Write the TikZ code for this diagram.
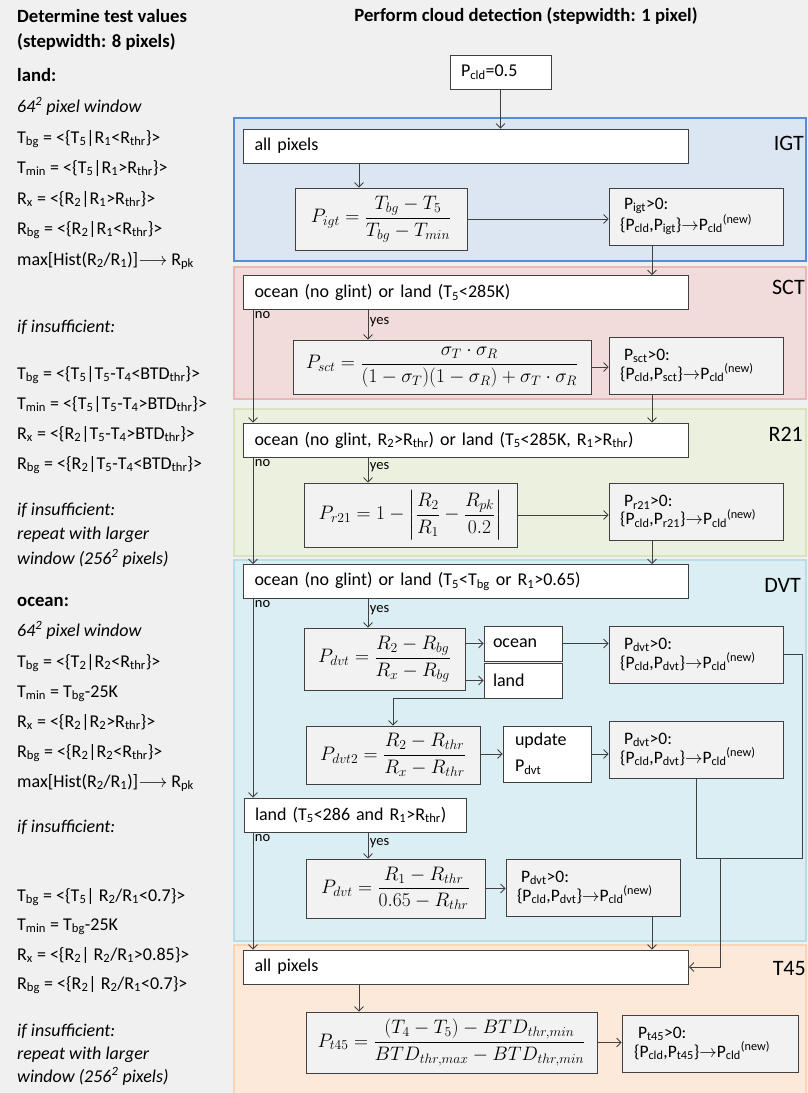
\RequirePackage{fix-cm}
\documentclass[tikz,border=0pt]{standalone}
\usepackage{amsmath}
\usepackage{fontspec}
\setmainfont{Carlito}
\usetikzlibrary{positioning, arrows.meta}
\definecolor{fondo}{HTML}{F0F0F0}
\definecolor{trazo}{HTML}{404040}
\definecolor{cajagris}{HTML}{F2F2F2}
\definecolor{igtborde}{HTML}{558ED5}
\definecolor{igtfondo}{HTML}{DCE6F2}
\definecolor{sctborde}{HTML}{E6B9B8}
\definecolor{sctfondo}{HTML}{F2DCDB}
\definecolor{rborde}{HTML}{D7E4BD}
\definecolor{rfondo}{HTML}{EBF1DE}
\definecolor{dvtborde}{HTML}{B7DEE8}
\definecolor{dvtfondo}{HTML}{DAEEF3}
\definecolor{tborde}{HTML}{FCD5B5}
\definecolor{tfondo}{HTML}{FDE9D9}
\newcommand{\ssub}[1]{\textsubscript{#1}}
\newcommand{\ssup}[1]{\textsuperscript{#1}}
\tikzstyle{franja} = [line width=2.5pt]
\tikzstyle{rotulo} = [anchor=east, inner sep=0pt, font=\fontsize{22}{26}\selectfont]
\tikzstyle{texto} = [anchor=west, inner sep=0pt, text height=12.5pt, text depth=4pt, font=\fontsize{18}{20}\selectfont]
\tikzstyle{titulo} = [texto, font=\fontsize{18.7}{21}\selectfont\bfseries]
\tikzstyle{caja} = [draw=trazo, line width=0.8pt, rectangle, inner xsep=11pt, inner ysep=0pt, align=left]
\tikzstyle{pregunta} = [caja, fill=white, minimum height=34pt, text width=423pt, font=\fontsize{18}{21}\selectfont]
\tikzstyle{formula} = [caja, fill=cajagris, inner xsep=4pt, align=center, font=\fontsize{19.5}{22}\selectfont]
\tikzstyle{resultado} = [caja, fill=cajagris, minimum width=174pt, minimum height=57pt, text width=152pt, font=\fontsize{17.5}{18}\selectfont]
\tikzstyle{etiqueta} = [inner sep=1.5pt, font=\fontsize{14.5}{16}\selectfont]
\tikzstyle{flecha} = [draw=trazo, line width=0.8pt, -{Straight Barb[length=4.5pt,width=9pt]}]
\tikzstyle{linea} = [draw=trazo, line width=0.8pt]

\begin{document}
\begin{tikzpicture}[x=1pt,y=-1pt]
\useasboundingbox (0,0) rectangle (808,1093);
\fill[fondo] (0,0) rectangle (808,1093);

% franjas de los tests
\draw[franja, draw=igtborde, fill=igtfondo] (234,118) rectangle (806,261);
\draw[franja, draw=sctborde, fill=sctfondo] (234,267) rectangle (806,399);
\draw[franja, draw=rborde, fill=rfondo] (234,409) rectangle (806,556);
\draw[franja, draw=dvtborde, fill=dvtfondo] (234,560) rectangle (806,941);
\draw[franja, draw=tborde, fill=tfondo] (234,945) rectangle (806,1095);
\node[rotulo] (ligt) at (804,143) {IGT};
\node[rotulo] (lsct) at (805,287) {SCT};
\node[rotulo] (lr21) at (803,434) {R21};
\node[rotulo] (ldvt) at (801,585) {DVT};
\node[rotulo] (lt45) at (806,968) {T45};

% columna izquierda
\node[titulo] (ti1) at (17,18) {Determine test values};
\node[titulo] (ti2) at (17,43) {(stepwidth: 8 pixels)};
\node[titulo] (tland) at (17,77) {land:};
\node[texto] (a1) at (17,108) {\textit{64\ssup{2} pixel window}};
\node[texto] (a2) at (17,139) {T\ssub{bg} = <\{T\ssub{5}|R\ssub{1}<R\ssub{thr}\}>};
\node[texto] (a3) at (17,169) {T\ssub{min} = <\{T\ssub{5}|R\ssub{1}>R\ssub{thr}\}>};
\node[texto] (a4) at (17,200) {R\ssub{x} = <\{R\ssub{2}|R\ssub{1}>R\ssub{thr}\}>};
\node[texto] (a5) at (17,230) {R\ssub{bg} = <\{R\ssub{2}|R\ssub{1}<R\ssub{thr}\}>};
\node[texto] (a6) at (17,261) {max[Hist(R\ssub{2}/R\ssub{1})]$\longrightarrow$ R\ssub{pk}};
\node[texto] (a7) at (17,328) {\textit{if insufficient:}};
\node[texto] (b1) at (17,375) {T\ssub{bg} = <\{T\ssub{5}|T\ssub{5}-T\ssub{4}<BTD\ssub{thr}\}>};
\node[texto] (b2) at (17,405) {T\ssub{min} = <\{T\ssub{5}|T\ssub{5}-T\ssub{4}>BTD\ssub{thr}\}>};
\node[texto] (b3) at (17,435) {R\ssub{x} = <\{R\ssub{2}|T\ssub{5}-T\ssub{4}>BTD\ssub{thr}\}>};
\node[texto] (b4) at (17,465) {R\ssub{bg} = <\{R\ssub{2}|T\ssub{5}-T\ssub{4}<BTD\ssub{thr}\}>};
\node[texto] (b5) at (17,511) {\textit{if insufficient:}};
\node[texto] (b6) at (17,535) {\textit{repeat with larger}};
\node[texto] (b7) at (17,560) {\textit{window (256\ssup{2} pixels)}};
\node[titulo] (tocean) at (17,602) {ocean:};
\node[texto] (c1) at (17,632) {\textit{64\ssup{2} pixel window}};
\node[texto] (c2) at (17,663) {T\ssub{bg} = <\{T\ssub{2}|R\ssub{2}<R\ssub{thr}\}>};
\node[texto] (c3) at (17,693) {T\ssub{min} = T\ssub{bg}-25K};
\node[texto] (c4) at (17,723) {R\ssub{x} = <\{R\ssub{2}|R\ssub{2}>R\ssub{thr}\}>};
\node[texto] (c5) at (17,753) {R\ssub{bg} = <\{R\ssub{2}|R\ssub{2}<R\ssub{thr}\}>};
\node[texto] (c6) at (17,783) {max[Hist(R\ssub{2}/R\ssub{1})]$\longrightarrow$ R\ssub{pk}};
\node[texto] (c7) at (17,828) {\textit{if insufficient:}};
\node[texto] (d1) at (17,897) {T\ssub{bg} = <\{T\ssub{5}| R\ssub{2}/R\ssub{1}<0.7\}>};
\node[texto] (d2) at (17,926) {T\ssub{min} = T\ssub{bg}-25K};
\node[texto] (d3) at (17,956) {R\ssub{x} = <\{R\ssub{2}| R\ssub{2}/R\ssub{1}>0.85\}>};
\node[texto] (d4) at (17,985) {R\ssub{bg} = <\{R\ssub{2}| R\ssub{2}/R\ssub{1}<0.7\}>};
\node[texto] (d5) at (17,1032) {\textit{if insufficient:}};
\node[texto] (d6) at (17,1055) {\textit{repeat with larger}};
\node[texto] (d7) at (17,1078) {\textit{window (256\ssup{2} pixels)}};

% columna derecha
\node[titulo, anchor=center] (td) at (526,17) {Perform cloud detection (stepwidth: 1 pixel)};
\coordinate (noes) at (253,0);
\coordinate (sies) at (368,0);
\coordinate (todos) at (359,0);
\coordinate (baja) at (652,0);
\coordinate (derecha) at (802,0);
\coordinate (junta) at (720,858);

\node[pregunta, minimum width=101pt, text width=79pt] (pcld) at (500.5,72) {P\ssub{cld}=0.5};

% IGT
\node[pregunta] (igtall) at (466,146) {all pixels};
\node[formula, minimum width=172pt, minimum height=62pt] (igtf) at (381,219)
  {$P_{igt}=\dfrac{T_{bg}-T_5}{T_{bg}-T_{min}}$};
\node[resultado] (igtres) at (696,216.5)
  {\hspace{4pt}P\ssub{igt}>0:\\\{P\ssub{cld},P\ssub{igt}\}$\rightarrow$P\ssub{cld}\ssup{(new)}};

% SCT
\node[pregunta] (sctq) at (466,292.5) {ocean (no glint) or land (T\ssub{5}<285K)};
\node[formula, minimum width=298pt, minimum height=54pt] (sctf) at (442,367)
  {$P_{sct}=\dfrac{\sigma_T\cdot\sigma_R}{(1-\sigma_T)(1-\sigma_R)+\sigma_T\cdot\sigma_R}$};
\node[resultado] (sctres) at (696,365.5)
  {\hspace{4pt}P\ssub{sct}>0:\\\{P\ssub{cld},P\ssub{sct}\}$\rightarrow$P\ssub{cld}\ssup{(new)}};

% R21
\node[pregunta] (r21q) at (466,440) {ocean (no glint, R\ssub{2}>R\ssub{thr}) or land (T\ssub{5}<285K, R\ssub{1}>R\ssub{thr})};
\node[formula, minimum width=213pt, minimum height=64pt] (r21f) at (410.5,515)
  {$P_{r21}=1-\left|\dfrac{R_2}{R_1}-\dfrac{R_{pk}}{0.2}\right|$};
\node[resultado] (r21res) at (696,511.5)
  {\hspace{4pt}P\ssub{r21}>0:\\\{P\ssub{cld},P\ssub{r21}\}$\rightarrow$P\ssub{cld}\ssup{(new)}};

% DVT
\node[pregunta] (dvtq) at (466,581.5) {ocean (no glint) or land (T\ssub{5}<T\ssub{bg} or R\ssub{1}>0.65)};
\node[formula, minimum width=161pt, minimum height=62pt] (dvtf) at (384.5,659)
  {$P_{dvt}=\dfrac{R_2-R_{bg}}{R_x-R_{bg}}$};
\node[pregunta, minimum width=78pt, minimum height=35pt, text width=60pt, inner xsep=9pt] (ocean) at (523,643.5) {ocean};
\node[pregunta, minimum width=78pt, minimum height=35pt, text width=60pt, inner xsep=9pt] (land) at (523,680.5) {land};
\node[resultado] (dvtres1) at (696,654.5)
  {\hspace{4pt}P\ssub{dvt}>0:\\\{P\ssub{cld},P\ssub{dvt}\}$\rightarrow$P\ssub{cld}\ssup{(new)}};
\node[formula, minimum width=174pt, minimum height=58pt] (dvtf2) at (393,755)
  {$P_{dvt2}=\dfrac{R_2-R_{thr}}{R_x-R_{thr}}$};
\node[pregunta, minimum width=88pt, minimum height=56pt, text width=64pt, inner xsep=12pt, font=\fontsize{18}{26}\selectfont] (update) at (547,754) {update\\P\ssub{dvt}};
\node[resultado] (dvtres2) at (696,749.5)
  {\hspace{4pt}P\ssub{dvt}>0:\\\{P\ssub{cld},P\ssub{dvt}\}$\rightarrow$P\ssub{cld}\ssup{(new)}};
\node[pregunta, minimum width=222pt, text width=200pt] (landq) at (355,815) {land (T\ssub{5}<286 and R\ssub{1}>R\ssub{thr})};
\node[formula, minimum width=179pt, minimum height=59pt] (dvtf3) at (395.5,888.5)
  {$P_{dvt}=\dfrac{R_1-R_{thr}}{0.65-R_{thr}}$};
\node[resultado] (dvtres3) at (593,887.5)
  {\hspace{4pt}P\ssub{dvt}>0:\\\{P\ssub{cld},P\ssub{dvt}\}$\rightarrow$P\ssub{cld}\ssup{(new)}};

% T45
\node[pregunta] (t45all) at (466,967) {all pixels};
\node[formula, minimum width=291pt, minimum height=61pt] (t45f) at (451.5,1042.5)
  {$P_{t45}=\dfrac{(T_4-T_5)-BTD_{thr,min}}{BTD_{thr,max}-BTD_{thr,min}}$};
\node[resultado, minimum width=176pt] (t45res) at (710,1043.5)
  {\hspace{4pt}P\ssub{t45}>0:\\\{P\ssub{cld},P\ssub{t45}\}$\rightarrow$P\ssub{cld}\ssup{(new)}};

% conexiones
\draw[flecha] (pcld.south) -- (pcld.south |- igtall.north);
\draw[flecha] (igtall.south -| todos) -- (igtf.north -| todos);
\draw[flecha] (igtf.east) -- (igtf.east -| igtres.west);
\draw[flecha] (igtres.south -| baja) -- (sctq.north -| baja);

\draw[flecha] (sctq.south -| noes) -- node[etiqueta, anchor=north west, pos=0] (sctno) {no} (r21q.north -| noes);
\draw[flecha] (sctq.south -| sies) -- node[etiqueta, anchor=west, pos=0.4] (sctyes) {yes} (sctf.north -| sies);
\draw[flecha] (sctf.east) -- (sctf.east -| sctres.west);
\draw[flecha] (sctres.south -| baja) -- (r21q.north -| baja);

\draw[flecha] (r21q.south -| noes) -- node[etiqueta, anchor=north west, pos=0] (r21no) {no} (dvtq.north -| noes);
\draw[flecha] (r21q.south -| sies) -- node[etiqueta, anchor=west, pos=0.4] (r21yes) {yes} (r21f.north -| sies);
\draw[flecha] (r21f.east) -- (r21f.east -| r21res.west);
\draw[flecha] (r21res.south -| baja) -- (dvtq.north -| baja);

\draw[flecha] (dvtq.south -| noes) -- node[etiqueta, anchor=north west, pos=0] (dvtno) {no} (landq.north -| noes);
\draw[flecha] (dvtq.south -| sies) -- node[etiqueta, anchor=west, pos=0.4] (dvtyes) {yes} (dvtf.north -| sies);
\draw[flecha] (dvtf.east |- ocean) -- (ocean.west);
\draw[flecha] (dvtf.east |- land) -- (land.west);
\draw[flecha] (ocean.east) -- (ocean.east -| dvtres1.west);
\draw[flecha] (land.south) -| (dvtf2.north);
\draw[flecha] (dvtf2.east |- update) -- (update.west);
\draw[flecha] (update.east) -- (update.east -| dvtres2.west);
\draw[linea] (dvtres1.east) -| (derecha |- junta) -- (dvtres2.south |- junta) -- (dvtres2.south);
\draw[flecha] (junta) |- (t45all.east);

\draw[flecha] (landq.south -| noes) -- node[etiqueta, anchor=north west, pos=0] (landno) {no} (t45all.north -| noes);
\draw[flecha] (landq.south -| sies) -- node[etiqueta, anchor=west, pos=0.4] (landyes) {yes} (dvtf3.north -| sies);
\draw[flecha] (dvtf3.east) -- (dvtf3.east -| dvtres3.west);
\draw[flecha] (dvtres3.south -| baja) -- (t45all.north -| baja);

\draw[flecha] (t45all.south -| todos) -- (t45f.north -| todos);
\draw[flecha] (t45f.east) -- (t45f.east -| t45res.west);
\end{tikzpicture}
\end{document}
